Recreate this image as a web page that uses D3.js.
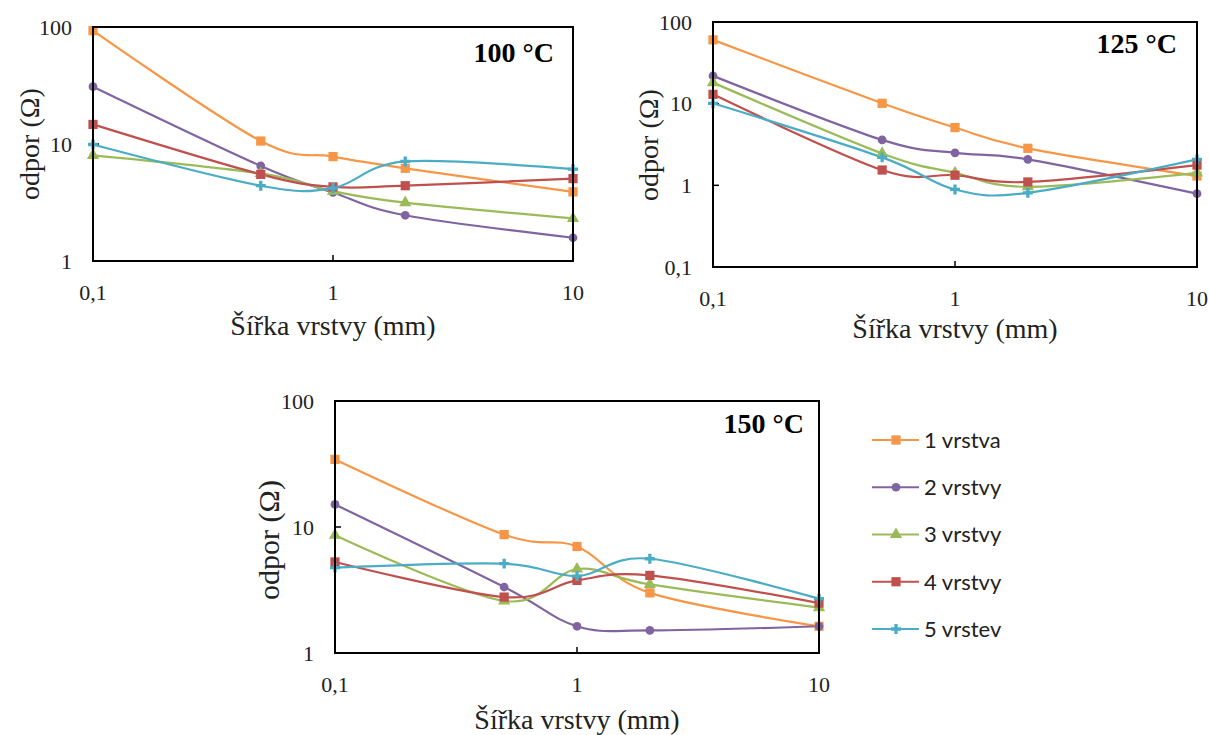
<!DOCTYPE html>
<html>
<head>
<meta charset="utf-8">
<script src="https://cdn.jsdelivr.net/npm/d3@7"></script>
<style>
  body { margin: 0; background: #fff; }
  svg { display: block; }
</style>
</head>
<body>
<svg id="chart" width="1209" height="735"></svg>
<script>
// ---------- data ----------
const widths = [0.1, 0.5, 1, 2, 10];               // Šířka vrstvy (mm)
const seriesNames = ["1 vrstva", "2 vrstvy", "3 vrstvy", "4 vrstvy", "5 vrstev"];
const seriesColors = ["#F79646", "#8064A2", "#9BBB59", "#C0504D", "#4BACC6"];

// 100 °C
const r100_1 = [93, 10.6, 7.8, 6.2, 3.9];
const r100_2 = [30.9, 6.5, 3.85, 2.46, 1.58];
const r100_3 = [8.0, 5.6, 3.95, 3.15, 2.31];
const r100_4 = [14.7, 5.5, 4.3, 4.4, 5.06];
const r100_5 = [9.9, 4.4, 4.2, 7.1, 6.1];

// 125 °C
const r125_1 = [60.4, 10.1, 5.1, 2.84, 1.3];
const r125_2 = [21.9, 3.6, 2.5, 2.08, 0.79];
const r125_3 = [18.1, 2.46, 1.42, 0.96, 1.42];
const r125_4 = [13.0, 1.54, 1.33, 1.1, 1.77];
const r125_5 = [10.1, 2.2, 0.89, 0.81, 2.08];

// 150 °C
const r150_1 = [34.4, 8.7, 7.0, 3.0, 1.63];
const r150_2 = [15.1, 3.34, 1.63, 1.51, 1.63];
const r150_3 = [8.6, 2.59, 4.64, 3.5, 2.29];
const r150_4 = [5.28, 2.78, 3.77, 4.13, 2.49];
const r150_5 = [4.76, 5.12, 4.08, 5.6, 2.7];

const xTicks = [0.1, 1, 10];
const xTickLabels = ["0,1", "1", "10"];
const yTicks3 = [1, 10, 100];
const yTickLabels3 = ["1", "10", "100"];
const yTicks4 = [0.1, 1, 10, 100];
const yTickLabels4 = ["0,1", "1", "10", "100"];

const panelTitles = ["100 °C", "125 °C", "150 °C"];
const xTitle = "Šířka vrstvy (mm)";
const yTitle = "odpor (Ω)";

// ---------- layout ----------
const panels = [
  { title: panelTitles[0], data: [r100_1, r100_2, r100_3, r100_4, r100_5],
    left: 93, right: 573, top: 27, bottom: 261, yDomain: [1, 100],
    yTicks: yTicks3, yLabels: yTickLabels3,
    titleX: 554, titleY: 62, xTitleY: 335, yTitleX: 29, yTitleY: 144, yfs: 28 },
  { title: panelTitles[1], data: [r125_1, r125_2, r125_3, r125_4, r125_5],
    left: 713, right: 1197, top: 22, bottom: 267, yDomain: [0.1, 100],
    yTicks: yTicks4, yLabels: yTickLabels4,
    titleX: 1177, titleY: 53, xTitleY: 338, yTitleX: 648, yTitleY: 145, yfs: 28 },
  { title: panelTitles[2], data: [r150_1, r150_2, r150_3, r150_4, r150_5],
    left: 335, right: 819, top: 401, bottom: 653, yDomain: [1, 100],
    yTicks: yTicks3, yLabels: yTickLabels3,
    titleX: 804, titleY: 433, xTitleY: 729, yTitleX: 268, yTitleY: 540, yfs: 30 }
];

const symbols = [
  d3.symbol().type(d3.symbolSquare).size(85),
  d3.symbol().type(d3.symbolCircle).size(60),
  d3.symbol().type(d3.symbolTriangle).size(65),
  d3.symbol().type(d3.symbolSquare).size(85),
  d3.symbol().type(d3.symbolCross).size(55)
];

const serif = "'Liberation Serif', 'Times New Roman', serif";
const sans = "Lato, 'Liberation Sans', sans-serif";

const svg = d3.select("#chart");

panels.forEach(p => {
  const x = d3.scaleLog().domain([0.1, 10]).range([p.left, p.right]);
  const y = d3.scaleLog().domain(p.yDomain).range([p.bottom, p.top]);
  const g = svg.append("g");

  // inner tick marks (intermediate decades)
  g.selectAll(".xt").data(xTicks.slice(1, -1)).join("line")
    .attr("x1", d => x(d)).attr("x2", d => x(d))
    .attr("y1", p.bottom).attr("y2", p.bottom - 6)
    .attr("stroke", "#000").attr("stroke-width", 1.5);
  g.selectAll(".yt").data(p.yTicks.slice(1, -1)).join("line")
    .attr("x1", p.left).attr("x2", p.left + 6)
    .attr("y1", d => y(d)).attr("y2", d => y(d))
    .attr("stroke", "#000").attr("stroke-width", 1.5);

  // tick labels
  g.selectAll(".xl").data(xTicks).join("text")
    .attr("x", d => x(d)).attr("y", p.bottom + 39)
    .attr("text-anchor", "middle")
    .attr("font-family", serif).attr("font-size", 22).attr("fill", "#222")
    .text((d, i) => xTickLabels[i]);
  g.selectAll(".yl").data(p.yTicks).join("text")
    .attr("x", p.left - 21).attr("y", d => y(d) + 7.5)
    .attr("text-anchor", "end")
    .attr("font-family", serif).attr("font-size", 22).attr("fill", "#222")
    .text((d, i) => p.yLabels[i]);

  // series
  const line = d3.line()
    .x((d, i) => x(widths[i]))
    .y(d => y(d))
    .curve(d3.curveCatmullRom.alpha(0));
  p.data.forEach((vals, si) => {
    g.append("path").datum(vals)
      .attr("d", line)
      .attr("fill", "none")
      .attr("stroke", seriesColors[si])
      .attr("stroke-width", 2.2);
  });
  p.data.forEach((vals, si) => {
    g.selectAll(null).data(vals).join("path")
      .attr("transform", (d, i) => `translate(${x(widths[i])},${y(d)})`)
      .attr("d", symbols[si])
      .attr("fill", seriesColors[si]);
  });

  // frame
  g.append("rect")
    .attr("x", p.left).attr("y", p.top)
    .attr("width", p.right - p.left).attr("height", p.bottom - p.top)
    .attr("fill", "none").attr("stroke", "#000").attr("stroke-width", 2);

  // panel title
  g.append("text")
    .attr("x", p.titleX).attr("y", p.titleY)
    .attr("text-anchor", "end")
    .attr("font-family", serif).attr("font-size", 28).attr("font-weight", "bold")
    .attr("fill", "#000")
    .text(p.title);

  // axis titles
  g.append("text")
    .attr("x", (p.left + p.right) / 2).attr("y", p.xTitleY)
    .attr("text-anchor", "middle")
    .attr("font-family", serif).attr("font-size", 28).attr("fill", "#222")
    .text(xTitle);
  g.append("text")
    .attr("transform", `translate(${p.yTitleX},${p.yTitleY}) rotate(-90)`)
    .attr("text-anchor", "middle").attr("dy", "0.35em")
    .attr("font-family", serif).attr("font-size", p.yfs).attr("fill", "#222")
    .text(yTitle);
});

// legend
const legend = svg.append("g");
const legendY = d3.scalePoint().domain(seriesNames).range([440, 629]);
seriesNames.forEach((name, i) => {
  const cy = legendY(name);
  legend.append("line")
    .attr("x1", 872).attr("x2", 919).attr("y1", cy).attr("y2", cy)
    .attr("stroke", seriesColors[i]).attr("stroke-width", 2.2);
  legend.append("path")
    .attr("transform", `translate(896,${cy})`)
    .attr("d", symbols[i]).attr("fill", seriesColors[i]);
  legend.append("text")
    .attr("x", 924).attr("y", cy).attr("dy", "0.36em")
    .attr("font-family", sans).attr("font-size", 22).attr("fill", "#222")
    .text(name);
});
</script>
</body>
</html>
